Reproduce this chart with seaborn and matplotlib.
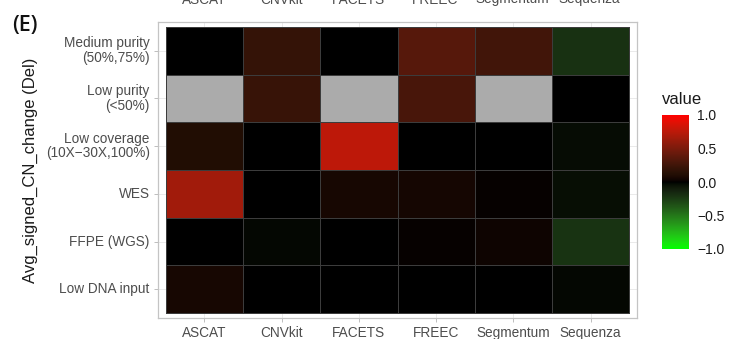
import numpy as np
import pandas as pd
import matplotlib
matplotlib.use("Agg")
import matplotlib.pyplot as plt
from matplotlib.colors import ListedColormap
import seaborn as sns

# ---- data -------------------------------------------------------------
methods = ["ASCAT", "CNVkit", "FACETS", "FREEC", "Segmentum", "Sequenza"]
conditions = ["Medium purity\n(50%,75%)", "Low purity\n(<50%)",
              "Low coverage\n(10X\u221230X,100%)", "WES", "FFPE (WGS)",
              "Low DNA input"]

medium_purity = [0.00, 0.20, 0.00, 0.35, 0.26, -0.20]
low_purity = [np.nan, 0.21, np.nan, 0.29, np.nan, 0.00]
low_coverage = [0.10, 0.00, 0.76, 0.00, 0.00, -0.03]
wes = [0.65, 0.00, 0.06, 0.05, 0.01, -0.04]
ffpe_wgs = [0.00, -0.02, 0.00, 0.01, 0.03, -0.21]
low_dna_input = [0.06, 0.00, 0.00, 0.00, 0.00, -0.02]

cbar_ticks = [1.0, 0.5, 0.0, -0.5, -1.0]
cbar_labels = ["1.0", "0.5", "0.0", "\u22120.5", "\u22121.0"]

df = pd.DataFrame([medium_purity, low_purity, low_coverage, wes,
                   ffpe_wgs, low_dna_input],
                  index=conditions, columns=methods)


# ---- diverging green-black-red palette interpolated in CIELAB ---------
def lab_to_srgb(lab):
    L, a, b = lab[:, 0], lab[:, 1], lab[:, 2]
    fy = (L + 16) / 116
    fx = fy + a / 500
    fz = fy - b / 200
    eps, kap = 0.008856, 903.3
    xr = np.where(fx ** 3 > eps, fx ** 3, (116 * fx - 16) / kap)
    yr = np.where(L > kap * eps, fy ** 3, L / kap)
    zr = np.where(fz ** 3 > eps, fz ** 3, (116 * fz - 16) / kap)
    X, Y, Z = xr * 0.95047, yr, zr * 1.08883
    r = 3.2406 * X - 1.5372 * Y - 0.4986 * Z
    g = -0.9689 * X + 1.8758 * Y + 0.0415 * Z
    bl = 0.0557 * X - 0.2040 * Y + 1.0570 * Z
    rgb = np.stack([r, g, bl], axis=1).clip(0, 1)
    rgb = np.where(rgb <= 0.0031308, 12.92 * rgb,
                   1.055 * rgb ** (1 / 2.4) - 0.055)
    return rgb.clip(0, 1)


green_lab = np.array([87.7347, -86.1827, 83.1793])
black_lab = np.array([0.0, 0.0, 0.0])
red_lab = np.array([53.2408, 80.0925, 67.2032])
t = np.linspace(0, 1, 256)[:, None]
lab = np.vstack([green_lab + (black_lab - green_lab) * t[:-1],
                 black_lab + (red_lab - black_lab) * t])
cmap = ListedColormap(lab_to_srgb(lab))

# ---- figure -----------------------------------------------------------
sns.set_theme(style="white")
plt.rcParams["font.family"] = ["Liberation Sans", "DejaVu Sans"]

fig = plt.figure(figsize=(7.30, 3.39), dpi=100)
ax = fig.add_axes([158 / 730, 1 - 318 / 339, 479 / 730, 296 / 339])
cax = fig.add_axes([662 / 730, 1 - 249 / 339, 27 / 730, 134 / 339])

tile_line = "#3c3c3c"
sns.heatmap(df, ax=ax, cmap=cmap, vmin=-1, vmax=1, cbar_ax=cax,
            linewidths=0.6, linecolor=tile_line,
            cbar_kws={"ticks": cbar_ticks})
# missing values drawn as grey tiles
na_mask = df.isna()
sns.heatmap(na_mask.astype(float), ax=ax, mask=~na_mask,
            cmap=ListedColormap(["#ababab"]), cbar=False,
            linewidths=0.6, linecolor=tile_line)

ax.set_xlim(-0.1, len(methods) + 0.1)
ax.set_ylim(len(conditions) + 0.1, -0.1)
ax.set_facecolor("white")
ax.set_axisbelow(True)
ax.grid(True, color="#e6e6e6", linewidth=0.6)
for sp in ax.spines.values():
    sp.set_visible(True)
    sp.set_color("#c4c4c4")
    sp.set_linewidth(0.9)

ax.set_xlabel("")
ax.set_ylabel("")
ax.tick_params(axis="both", which="both", length=3, width=0.6,
               color="#b3b3b3", labelcolor="#4d4d4d", labelsize=9.8,
               bottom=True, left=True, pad=3)
ax.set_xticklabels(methods, rotation=0)
ax.set_yticklabels(conditions, rotation=0, ha="right",
                   linespacing=1.05)

fig.text(30 / 730, 1 - 170 / 339, "Avg_signed_CN_change (Del)",
         rotation=90, ha="center", va="center", fontsize=12,
         color="#1a1a1a")
fig.text(25 / 730, 1 - 26 / 339, "(E)", ha="center", va="center",
         fontsize=15.5, weight="semibold", color="#111111",
         family=["Open Sans", "DejaVu Sans"])

# method names of the panel above, clipped at the top edge
for i, m in enumerate(methods):
    fig.text((166 + 77 * (i + 0.5)) / 730, 1 - 3.5 / 339, m, ha="center",
             va="baseline", fontsize=9.8, color="#4d4d4d")

# colour bar styling
cb = ax.collections[0].colorbar
cb.outline.set_visible(False)
cax.tick_params(direction="in", length=5, width=0.7, color="white",
                left=True, right=True, labelleft=False, labelright=True,
                labelsize=10, labelcolor="#1a1a1a", pad=6)
cax.set_yticklabels(cbar_labels)
fig.text(662 / 730, 1 - 100 / 339, "value", ha="left", va="center",
         fontsize=12, color="#1a1a1a")

fig.savefig("out.png", dpi=100)
